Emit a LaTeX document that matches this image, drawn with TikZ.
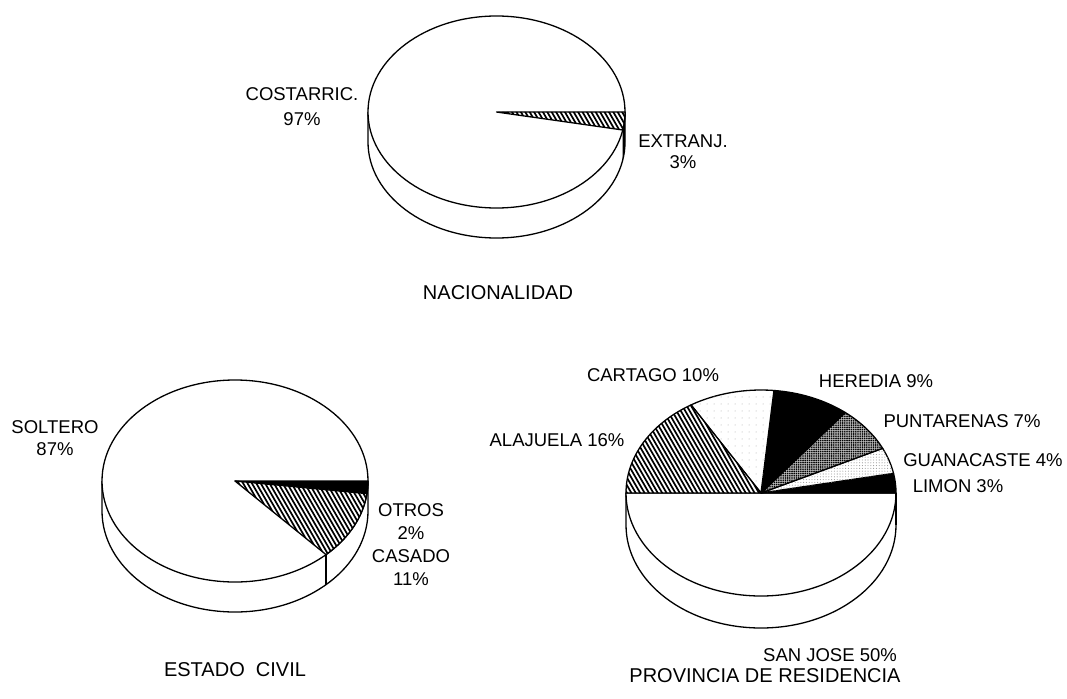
\documentclass[tikz,border=0pt]{standalone}
\usepackage{fontspec}
\setmainfont{Liberation Sans}
\usetikzlibrary{patterns,patterns.meta}
\newcommand\pieslice[7]{%
  \path[#7] (#1,#2) -- ++(#5:{#3} and {#4}) arc[start angle=#5,end angle=#6,x radius=#3,y radius=#4] -- cycle;}
\newcommand\hatchslice[6]{%
  \begin{scope}
    \clip (#1,#2) -- ++(#5:{#3} and {#4}) arc[start angle=#5,end angle=#6,x radius=#3,y radius=#4] -- cycle;
    \fill[white] (#1-#3,#2-#4) rectangle (#1+#3,#2+#4);
    \foreach \t in {-200,-195.6,...,200}
      \draw[hatchline, xshift=\t pt] (#1-75,#2+130) -- ++(150,-260);
  \end{scope}
  \draw[pieline] (#1,#2) -- ++(#5:{#3} and {#4}) arc[start angle=#5,end angle=#6,x radius=#3,y radius=#4] -- cycle;}
\tikzset{
  pieline/.style={line width=1.3pt, line join=round},
  hatchline/.style={line width=1.7pt},
  lbl/.style={font=\fontsize{18.5}{#1}\selectfont, align=center, inner sep=0pt},
  lbl/.default=22,
  ttl/.style={font=\fontsize{20}{24}\selectfont, inner sep=0pt},
  solid black/.style={pieline, draw=black, fill=black},
  darkdots/.style={pieline, draw=black, fill=gray!55, postaction={pattern={Dots[distance=2.2pt,radius=0.9pt]}}},
  lightdots/.style={pieline, draw=black, fill=white, postaction={pattern={Dots[distance=2.8pt,radius=0.55pt]}, pattern color=gray!80}},
  sparsedots/.style={pieline, draw=black, fill=white, postaction={pattern={Dots[distance=7pt,radius=0.5pt]}, pattern color=gray!70}},
  plain/.style={pieline, draw=black, fill=white},
}
\begin{document}
\begin{tikzpicture}[x=1pt,y=1pt]
\useasboundingbox (0,0) rectangle (1067,-698);
\fill[white] (0,0) rectangle (1067,-698);

% ---------- NACIONALIDAD pie ----------
\def\cx{496.5}\def\cy{-112}\def\rx{128.5}\def\ry{96}\def\dz{30}
\draw[pieline] (\cx-\rx,\cy) -- ++(0,-\dz) arc[start angle=180,end angle=360,x radius=\rx,y radius=\ry] -- (\cx+\rx,\cy);
\fill (\cx,\cy) ++(-10.8:{\rx} and {\ry}) arc[start angle=-10.8,end angle=0,x radius=\rx,y radius=\ry] -- ++(0,-\dz) arc[start angle=0,end angle=-10.8,x radius=\rx,y radius=\ry] -- cycle;
\draw[plain] (\cx,\cy) ellipse[x radius=\rx,y radius=\ry];
\hatchslice{\cx}{\cy}{\rx}{\ry}{-10.8}{0}

\node[lbl=25] (costarric) at (302,-107) {COSTARRIC.\\97\%};
\node[lbl=21] (extranj) at (683,-152) {EXTRANJ.\\3\%};
\node[ttl] (nacionalidad) at (498,-293) {NACIONALIDAD};

% ---------- ESTADO CIVIL pie ----------
\def\cx{235}\def\cy{-481}\def\rx{133}\def\ry{101}\def\dz{30}
\draw[pieline] (\cx-\rx,\cy) -- ++(0,-\dz) arc[start angle=180,end angle=360,x radius=\rx,y radius=\ry] -- (\cx+\rx,\cy);
\draw[pieline] (\cx,\cy) ++(-46.8:{\rx} and {\ry}) -- ++(0,-\dz);
\draw[plain] (\cx,\cy) ellipse[x radius=\rx,y radius=\ry];
\pieslice{\cx}{\cy}{\rx}{\ry}{-7.2}{0}{solid black}
\hatchslice{\cx}{\cy}{\rx}{\ry}{-46.8}{-7.2}

\node[lbl=22] (soltero) at (55,-438) {SOLTERO\\87\%};
\node[lbl=23] (otros) at (411,-545) {OTROS\\2\%\\CASADO\\11\%};
\node[ttl] (estado) at (235,-670) {ESTADO\ \ CIVIL};

% ---------- PROVINCIA pie ----------
\def\cx{761}\def\cy{-493}\def\rx{135}\def\ry{103}\def\dz{32}
\draw[pieline] (\cx-\rx,\cy) -- ++(0,-\dz) arc[start angle=180,end angle=360,x radius=\rx,y radius=\ry] -- (\cx+\rx,\cy);
\pieslice{\cx}{\cy}{\rx}{\ry}{180}{360}{plain}
\pieslice{\cx}{\cy}{\rx}{\ry}{0}{11}{solid black}
\pieslice{\cx}{\cy}{\rx}{\ry}{11}{25.7}{lightdots}
\pieslice{\cx}{\cy}{\rx}{\ry}{25.7}{51.4}{darkdots}
\pieslice{\cx}{\cy}{\rx}{\ry}{51.4}{84.5}{solid black}
\pieslice{\cx}{\cy}{\rx}{\ry}{84.5}{121.2}{sparsedots}
\hatchslice{\cx}{\cy}{\rx}{\ry}{121.2}{180}
\draw[line width=2.2pt] (\cx+\rx,\cy) -- ++(0,-\dz);

\node[lbl] (cartago) at (653,-375) {CARTAGO 10\%};
\node[lbl] (heredia) at (876,-381) {HEREDIA 9\%};
\node[lbl] (puntarenas) at (962,-421) {PUNTARENAS 7\%};
\node[lbl] (guanacaste) at (983,-460) {GUANACASTE 4\%};
\node[lbl] (limon) at (958,-486) {LIMON 3\%};
\node[lbl] (alajuela) at (557,-440) {ALAJUELA 16\%};
\node[lbl] (sanjose) at (830,-655) {SAN JOSE 50\%};
\node[ttl] (provincia) at (765,-676) {PROVINCIA DE RESIDENCIA};
\end{tikzpicture}
\end{document}
